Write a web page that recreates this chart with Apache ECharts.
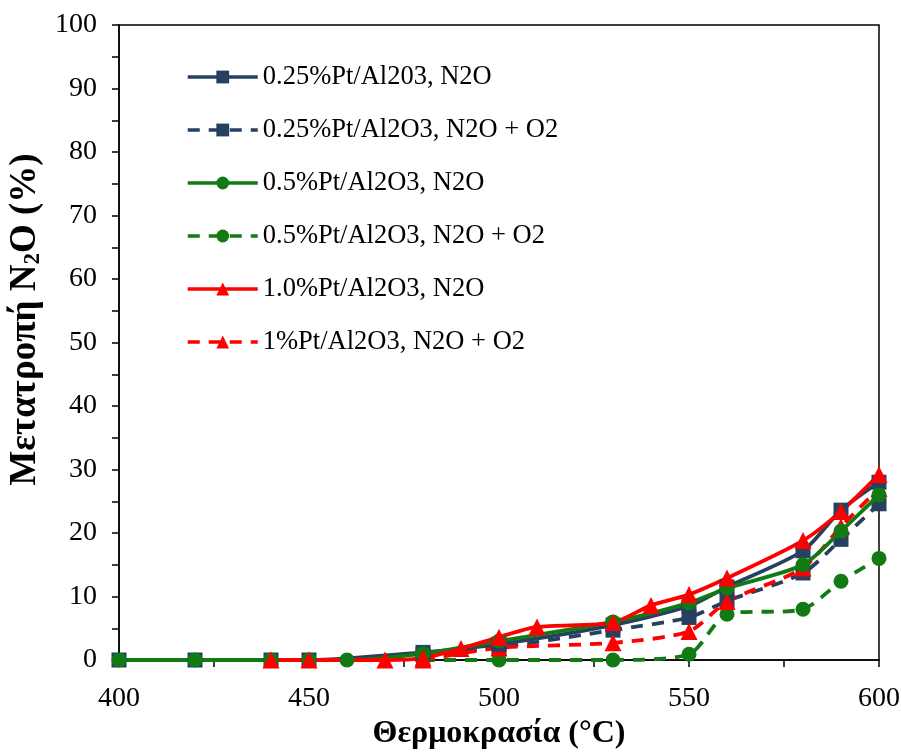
<!DOCTYPE html>
<html>
<head>
<meta charset="utf-8">
<script src="https://cdn.jsdelivr.net/npm/echarts@6/dist/echarts.min.js"></script>
<style>
  html, body { margin: 0; padding: 0; background: #fff; }
  #chart { width: 901px; height: 754px; }
</style>
</head>
<body>
<div id="chart"></div>
<script>
// series names (legend order)
var names = [
  '0.25%Pt/Al203, N2O',
  '0.25%Pt/Al2O3, N2O + O2',
  '0.5%Pt/Al2O3, N2O',
  '0.5%Pt/Al2O3, N2O + O2',
  '1.0%Pt/Al2O3, N2O',
  '1%Pt/Al2O3, N2O + O2'
]

// temperatures (°C) and conversion (%) for each series
var t025 = [400, 420, 440, 450, 480, 500, 530, 550, 560, 580, 590, 600]
var v025 = [0, 0, 0, 0, 1.2, 2.5, 5.5, 8.5, 11.5, 17.2, 23.6, 28.0]

var t025o2 = [480, 500, 530, 550, 560, 580, 590, 600]
var v025o2 = [0.8, 2.0, 4.7, 6.7, 9.3, 13.7, 19.0, 24.6]

var t05 = [400, 420, 440, 450, 460, 480, 500, 530, 550, 560, 580, 590, 600]
var v05 = [0, 0, 0, 0, 0, 1.0, 3.0, 6.0, 9.0, 11.3, 15.0, 20.3, 26.0]

var t05o2 = [480, 500, 530, 550, 560, 580, 590, 600]
var v05o2 = [0, 0, 0, 0.9, 7.2, 8.0, 12.4, 16.0]

var t10 = [440, 450, 470, 480, 490, 500, 510, 530, 540, 550, 560, 580, 590, 600]
var v10 = [0, 0, 0, 0.3, 1.8, 3.6, 5.2, 5.9, 8.6, 10.3, 12.9, 18.8, 23.4, 29.2]

var t10o2 = [480, 500, 530, 550, 560, 580, 590, 600]
var v10o2 = [0, 1.9, 2.7, 4.5, 9.2, 14.5, 21.0, 27.0]

var xTicks = [400, 450, 500, 550, 600]
var yTicks = [0, 10, 20, 30, 40, 50, 60, 70, 80, 90, 100]

var navy = '#26405f'
var green = '#127a12'
var red = '#ff0000'

function pairs(xs, ys) {
  return xs.map(function (x, i) { return [x, ys[i]] })
}

function makeSeries(name, xs, ys, color, symbol, size, dashed) {
  return {
    name: name,
    type: 'line',
    data: pairs(xs, ys),
    smooth: 0.25,
    symbol: symbol,
    symbolSize: size,
    itemStyle: { color: color },
    lineStyle: { color: color, width: 3.8, type: dashed ? [12, 9] : 'solid' },
    emphasis: { disabled: true },
    z: dashed ? 2 : 3
  }
}

var chart = echarts.init(document.getElementById('chart'))
var font = 'Liberation Serif, Times New Roman, serif'

var option = {
  animation: false,
  backgroundColor: '#fff',
  textStyle: { fontFamily: font },
  grid: {
    left: 119,
    right: 22,
    top: 25,
    bottom: 94,
    containLabel: false,
    outerBoundsMode: 'none',
    show: true,
    borderColor: '#000',
    borderWidth: 1.5,
    backgroundColor: 'transparent'
  },
  legend: {
    left: 186,
    top: 63,
    padding: 0,
    orient: 'vertical',
    itemWidth: 70,
    itemHeight: 16,
    itemGap: 25,
    lineStyle: { width: 3.5 },
    textStyle: { fontFamily: font, fontSize: 26.5, color: '#000', lineHeight: 28 },
    data: names
  },
  xAxis: {
    type: 'value',
    min: xTicks[0],
    max: xTicks[xTicks.length - 1],
    interval: 50,
    name: 'Θερμοκρασία (°C)',
    nameLocation: 'middle',
    nameGap: 57,
    nameTextStyle: { fontFamily: font, fontSize: 32, fontWeight: 'bold', color: '#000' },
    axisLine: { onZero: false, lineStyle: { color: '#000', width: 1.5 } },
    axisTick: { show: true, inside: false, length: 7, lineStyle: { color: '#000', width: 1.5 } },
    minorTick: { show: true, splitNumber: 2, length: 7, lineStyle: { color: '#000', width: 1.5 } },
    axisLabel: { fontFamily: font, fontSize: 28, color: '#000', margin: 25 },
    splitLine: { show: false }
  },
  yAxis: {
    type: 'value',
    min: yTicks[0],
    max: yTicks[yTicks.length - 1],
    interval: 10,
    name: '{b|Μετατροπή N}{s|2}{b|O (%)}',
    nameLocation: 'middle',
    nameGap: 70,
    nameTextStyle: {
      fontFamily: font, fontSize: 37, fontWeight: 'bold', color: '#000',
      padding: [0, 0, 0, 46],
      rich: {
        b: { fontFamily: font, fontSize: 37, fontWeight: 'bold', color: '#000' },
        s: { fontFamily: font, fontSize: 23, fontWeight: 'bold', color: '#000', padding: [14, 0, 0, 0] }
      }
    },
    axisLine: { show: true, lineStyle: { color: '#000', width: 1.5 } },
    axisTick: { show: true, inside: false, length: 7, lineStyle: { color: '#000', width: 1.5 } },
    minorTick: { show: true, splitNumber: 2, length: 7, lineStyle: { color: '#000', width: 1.5 } },
    axisLabel: { fontFamily: font, fontSize: 28, color: '#000', margin: 22 },
    splitLine: { show: false }
  },
  series: [
    makeSeries(names[0], t025, v025, navy, 'rect', 15, false),
    makeSeries(names[1], t025o2, v025o2, navy, 'rect', 15, true),
    makeSeries(names[2], t05, v05, green, 'circle', 15, false),
    makeSeries(names[3], t05o2, v05o2, green, 'circle', 15, true),
    makeSeries(names[4], t10, v10, red, 'triangle', 17, false),
    makeSeries(names[5], t10o2, v10o2, red, 'triangle', 17, true)
  ]
}

chart.setOption(option)
</script>
</body>
</html>
